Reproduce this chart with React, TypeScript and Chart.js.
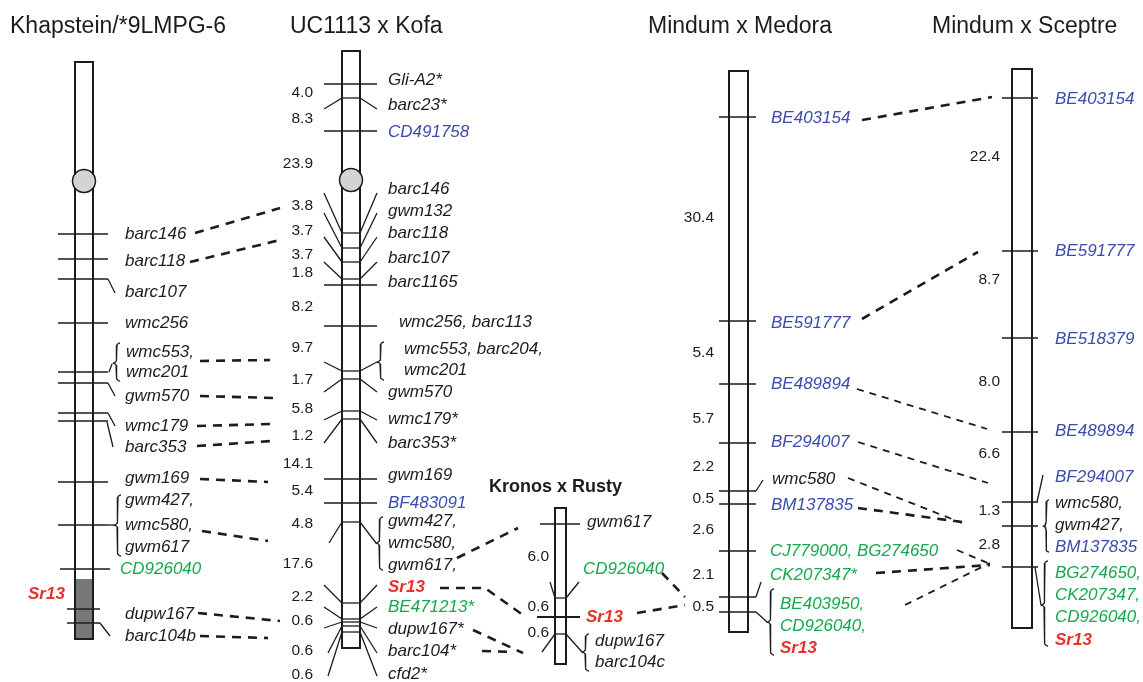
import { useEffect, useRef } from "react";
import { Chart, registerables } from "chart.js";

Chart.register(...registerables);

const W = 1143;
const H = 682;

const COLORS: Record<string, string> = { k: "#1c1c1c", b: "#3a4cae", g: "#17a84e", r: "#e4342a" };
const FONT = '"Liberation Sans", Arial, Helvetica, sans-serif';

// ---------------- Titles ----------------
const titles = ["Khapstein/*9LMPG-6", "UC1113 x Kofa", "Kronos x Rusty", "Mindum x Medora", "Mindum x Sceptre"];
const titleX = [10, 290, 489, 648, 932];
const titleY = [27, 27, 487, 27, 27];

// ---------------- Khapstein/*9LMPG-6 ----------------
const khapMarkers = ["barc146", "barc118", "barc107", "wmc256", "wmc553,", "wmc201", "gwm570", "wmc179", "barc353", "gwm169", "gwm427,", "wmc580,", "gwm617", "CD926040", "dupw167", "barc104b", "Sr13"];
const khapColors = "kkkkkkkkkkkkkgkkr";
const khapLabelX = [125, 125, 125, 125, 126, 126, 125, 125, 125, 125, 125, 125, 125, 120, 125, 125, 28];
const khapLabelY = [234, 261, 292, 323, 352, 372, 396, 426, 447, 478, 500, 525, 547, 569, 614, 636, 594];
const khapTickY = [234, 259, 279, 323, 372, 383, 413, 421, 482, 525];

// ---------------- UC1113 x Kofa ----------------
const kofaMarkers = ["Gli-A2*", "barc23*", "CD491758", "barc146", "gwm132", "barc118", "barc107", "barc1165", "wmc256, barc113", "wmc553, barc204,", "wmc201", "gwm570", "wmc179*", "barc353*", "gwm169", "BF483091", "gwm427,", "wmc580,", "gwm617,", "Sr13", "BE471213*", "dupw167*", "barc104*", "cfd2*"];
const kofaColors = "kkbkkkkkkkkkkkkbkkkrgkkk";
const kofaLabelX = [388, 388, 388, 388, 388, 388, 388, 388, 399, 404, 404, 388, 388, 388, 388, 388, 388, 388, 388, 388, 388, 388, 388, 388];
const kofaLabelY = [80, 105, 132, 189, 211, 233, 258, 282, 322, 349, 370, 392, 419, 443, 475, 503, 521, 543, 565, 587, 607, 629, 651, 674];
const kofaDist = ["4.0", "8.3", "23.9", "3.8", "3.7", "3.7", "1.8", "8.2", "9.7", "1.7", "5.8", "1.2", "14.1", "5.4", "4.8", "17.6", "2.2", "0.6", "0.6", "0.6"];
const kofaDistY = [93, 119, 164, 206, 231, 255, 273, 307, 348, 380, 409, 436, 464, 491, 524, 564, 597, 621, 651, 675];
const kofaCrossY = [84, 131, 285, 326, 479, 503];
const kofaInnerY = [98, 233, 248, 262, 279, 371, 379, 411, 419, 522, 603, 619, 622, 626, 632];
const kofaSlantIn = [98, 233, 248, 262, 279, 371, 379, 411, 419, 603, 619, 622, 626, 632];
const kofaSlantOut = [109, 193, 213, 237, 262, 362, 392, 420, 443, 585, 607, 628, 653, 676];

// ---------------- Kronos x Rusty ----------------
const kronMarkers = ["gwm617", "CD926040", "Sr13", "dupw167", "barc104c"];
const kronColors = "kgrkk";
const kronLabelX = [587, 583, 586, 595, 595];
const kronLabelY = [522, 569, 617, 641, 662];
const kronDist = ["6.0", "0.6", "0.6"];
const kronDistY = [557, 607, 633];

// ---------------- Mindum x Medora ----------------
const medMarkers = ["BE403154", "BE591777", "BE489894", "BF294007", "wmc580", "BM137835", "CJ779000, BG274650", "CK207347*", "BE403950,", "CD926040,", "Sr13"];
const medColors = "bbbbkbggggr";
const medLabelX = [771, 771, 771, 771, 772, 771, 770, 770, 780, 780, 780];
const medLabelY = [118, 323, 384, 442, 479, 505, 551, 575, 604, 626, 648];
const medDist = ["30.4", "5.4", "5.7", "2.2", "0.5", "2.6", "2.1", "0.5"];
const medDistY = [218, 353, 419, 467, 499, 530, 575, 607];
const medTickY = [117, 321, 384, 443, 491, 504, 551, 597, 612];

// ---------------- Mindum x Sceptre ----------------
const scepMarkers = ["BE403154", "BE591777", "BE518379", "BE489894", "BF294007", "wmc580,", "gwm427,", "BM137835", "BG274650,", "CK207347,", "CD926040,", "Sr13"];
const scepColors = "bbbbbkkbgggr";
const scepLabelY = [99, 251, 339, 431, 477, 503, 525, 547, 573, 595, 617, 640];
const scepDist = ["22.4", "8.7", "8.0", "6.6", "1.3", "2.8"];
const scepDistY = [157, 280, 382, 454, 511, 545];
const scepTickY = [98, 251, 338, 432, 502, 526, 567];

// ---------------- Homology links (dashed) ----------------
const thickLinks: number[][][] = [
  [[195, 233], [280, 208]],
  [[190, 262], [280, 240]],
  [[200, 361], [270, 360]],
  [[200, 396], [275, 398]],
  [[197, 426], [272, 424]],
  [[197, 446], [272, 441]],
  [[200, 479], [268, 482]],
  [[202, 531], [268, 541]],
  [[198, 613], [280, 621]],
  [[200, 636], [268, 638]],
  [[457, 558], [518, 528]],
  [[440, 588], [485, 588], [523, 615]],
  [[473, 630], [523, 653]],
  [[482, 651], [513, 652]],
  [[662, 573], [685, 597]],
  [[637, 613], [685, 605]],
  [[862, 120], [992, 97]],
  [[862, 319], [978, 252]],
  [[858, 508], [962, 522]],
  [[876, 573], [990, 565]],
];
const thinLinks: number[][][] = [
  [[857, 389], [987, 429]],
  [[858, 442], [988, 483]],
  [[848, 478], [962, 523]],
  [[957, 550], [990, 564]],
  [[905, 605], [990, 563]],
];

type DS = any;

function line(pts: number[][], width: number, dash: number[] = [], color = COLORS.k): DS {
  return {
    data: pts.map(([x, y]) => ({ x, y })),
    showLine: true,
    borderColor: color,
    borderWidth: width,
    borderDash: dash,
    borderCapStyle: "butt",
    borderJoinStyle: "miter",
    pointRadius: 0,
    pointHoverRadius: 0,
    fill: false,
    tension: 0,
  };
}

function rect(x1: number, x2: number, top: number, bottom: number): DS {
  return line([[x1, top], [x2, top], [x2, bottom], [x1, bottom], [x1, top - 1]], 2);
}

function brace(x: number, y1: number, y2: number, tip: number, w = 6): number[][] {
  const rx = w / 2;
  const r = Math.min(4, (tip - y1) / 2, (y2 - tip) / 2);
  const pts: number[][] = [];
  const arc = (cx: number, cy: number, a0: number, a1: number) => {
    for (let i = 0; i <= 6; i++) {
      const a = a0 + ((a1 - a0) * i) / 6;
      pts.push([cx + rx * Math.cos(a), cy + r * Math.sin(a)]);
    }
  };
  arc(x + w, y1 + r, -Math.PI / 2, -Math.PI);
  arc(x, tip - r, 0, Math.PI / 2);
  arc(x, tip + r, -Math.PI / 2, 0);
  arc(x + w, y2 - r, Math.PI, Math.PI / 2);
  return pts;
}

function buildDatasets(): DS[] {
  const ds: DS[] = [];
  const T = 1.3;
  // centromeres (drawn on top: first datasets)
  ds.push({
    data: [{ x: 84, y: 181 }, { x: 351, y: 180 }],
    pointRadius: 11.5,
    pointHoverRadius: 0,
    pointBackgroundColor: "#d4d4d4",
    pointBorderColor: COLORS.k,
    pointBorderWidth: 1.5,
    showLine: false,
  });
  // chromosome outlines
  ds.push(rect(75, 93, 62, 639));
  ds.push(rect(342, 360, 51, 648));
  ds.push(rect(555, 566, 508, 664));
  ds.push(rect(729, 748, 71, 632));
  ds.push(rect(1012, 1032, 69, 628));

  // Khapstein
  khapTickY.forEach((y) => ds.push(line([[58, y], [108, y]], T)));
  ds.push(line([[60, 569], [110, 569]], T));
  ds.push(line([[67, 609], [100, 609]], T));
  ds.push(line([[67, 623], [100, 623]], T));
  ds.push(line([[108, 279], [115, 293]], T));
  ds.push(line([[109, 372], [112, 364]], T));
  ds.push(line([[108, 383], [115, 396]], T));
  ds.push(line([[108, 413], [115, 426]], T));
  ds.push(line([[107, 422], [113, 447]], T));
  ds.push(line([[100, 623], [110, 636]], T));
  ds.push(line([[108, 525], [114, 525]], T));
  ds.push(line(brace(113, 343, 381, 363, 7), T));
  ds.push(line(brace(114, 495, 556, 525, 7), T));
  // gray Sr13 segment (vertical stroke as wide as the chromosome)
  ds.push(line([[84, 579], [84, 639]], 18, [], "#777777"));

  // Kofa
  kofaCrossY.forEach((y) => ds.push(line([[324, y], [377, y]], T)));
  kofaInnerY.forEach((y) => ds.push(line([[342, y], [360, y]], T)));
  kofaSlantIn.forEach((yi, i) => {
    const yo = kofaSlantOut[i];
    const lx = yi >= 626 ? 328 : 324;
    ds.push(line([[lx, yo], [342, yi]], T));
    ds.push(line([[377, yo], [360, yi]], T));
  });
  ds.push(line([[329, 543], [342, 522]], T));
  ds.push(line([[360, 522], [376, 543]], T));
  ds.push(line(brace(377, 342, 380, 362, 7), T));
  ds.push(line(brace(376, 517, 570, 543, 7), T));

  // Kronos
  ds.push(line([[540, 524], [580, 524]], T));
  ds.push(line([[537, 617], [580, 617]], 1.8));
  ds.push(line([[555, 598], [566, 598]], T));
  ds.push(line([[555, 634], [566, 634]], T));
  ds.push(line([[550, 582], [555, 598]], T));
  ds.push(line([[579, 582], [566, 598]], T));
  ds.push(line([[542, 652], [555, 634]], T));
  ds.push(line([[566, 634], [582, 652]], T));
  ds.push(line(brace(582, 634, 671, 652, 7), T));

  // Medora
  medTickY.forEach((y) => ds.push(line([[719, y], [756, y]], 1.6)));
  ds.push(line([[756, 491], [763, 480]], T));
  ds.push(line([[756, 597], [761, 582]], T));
  ds.push(line([[756, 612], [767, 622]], T));
  ds.push(line(brace(767, 589, 655, 622, 7), T));

  // Sceptre
  scepTickY.forEach((y) => ds.push(line([[1002, y], [1038, y]], 1.6)));
  ds.push(line([[1037, 502], [1043, 475]], T));
  ds.push(line([[1035, 567], [1041, 605]], T));
  ds.push(line(brace(1043, 500, 552, 526, 6), T));
  ds.push(line(brace(1041, 561, 646, 605, 7), T));

  // dashed homology links
  thickLinks.forEach((p) => ds.push(line(p, 2.6, [9, 7])));
  thinLinks.forEach((p) => ds.push(line(p, 1.8, [7, 6])));
  return ds;
}

type Lab = { t: string; x: number; y: number; c: string; size: number; italic: boolean; bold: boolean; align: CanvasTextAlign };

function buildLabels(): Lab[] {
  const out: Lab[] = [];
  titles.forEach((t, i) =>
    out.push({ t, x: titleX[i], y: titleY[i], c: COLORS.k, size: i === 2 ? 18 : 23, italic: false, bold: i === 2, align: "left" })
  );
  const markers = (names: string[], xs: number[], ys: number[], cols: string) =>
    names.forEach((t, i) =>
      out.push({ t, x: xs[i], y: ys[i], c: COLORS[cols[i]], size: 17, italic: true, bold: cols[i] === "r", align: "left" })
    );
  const dists = (vals: string[], ys: number[], right: number) =>
    vals.forEach((t, i) => out.push({ t, x: right, y: ys[i], c: COLORS.k, size: 15.5, italic: false, bold: false, align: "right" }));
  markers(khapMarkers, khapLabelX, khapLabelY, khapColors);
  markers(kofaMarkers, kofaLabelX, kofaLabelY, kofaColors);
  markers(kronMarkers, kronLabelX, kronLabelY, kronColors);
  markers(medMarkers, medLabelX, medLabelY, medColors);
  markers(scepMarkers, scepMarkers.map(() => 1055), scepLabelY, scepColors);
  dists(kofaDist, kofaDistY, 313);
  dists(kronDist, kronDistY, 549);
  dists(medDist, medDistY, 714);
  dists(scepDist, scepDistY, 1000);
  return out;
}

const textPlugin = {
  id: "mapText",
  afterDatasetsDraw(chart: any) {
    const { ctx, scales } = chart;
    const labels = buildLabels();
    ctx.save();
    ctx.textBaseline = "middle";
    labels.forEach((l) => {
      ctx.font = `${l.italic ? "italic " : ""}${l.bold ? "bold " : ""}${l.size}px ${FONT}`;
      ctx.fillStyle = l.c;
      ctx.textAlign = l.align;
      ctx.fillText(l.t, scales.x.getPixelForValue(l.x), scales.y.getPixelForValue(l.y));
    });
    ctx.restore();
  },
};

export default function App() {
  const ref = useRef<HTMLCanvasElement>(null);
  useEffect(() => {
    const chart = new Chart(ref.current as HTMLCanvasElement, {
      type: "scatter",
      data: { datasets: buildDatasets() },
      options: {
        animation: false,
        responsive: false,
        maintainAspectRatio: false,
        events: [],
        layout: { padding: 0, autoPadding: false },
        plugins: { legend: { display: false }, tooltip: { enabled: false } },
        scales: {
          x: { type: "linear", min: 0, max: W, display: false },
          y: { type: "linear", min: 0, max: H, reverse: true, display: false },
        },
      },
      plugins: [textPlugin],
    } as any);
    return () => chart.destroy();
  }, []);
  return (
    <div style={{ position: "absolute", left: 0, top: 0, width: W, height: H, background: "#fff" }}>
      <canvas ref={ref} width={W} height={H} style={{ display: "block" }} />
    </div>
  );
}
